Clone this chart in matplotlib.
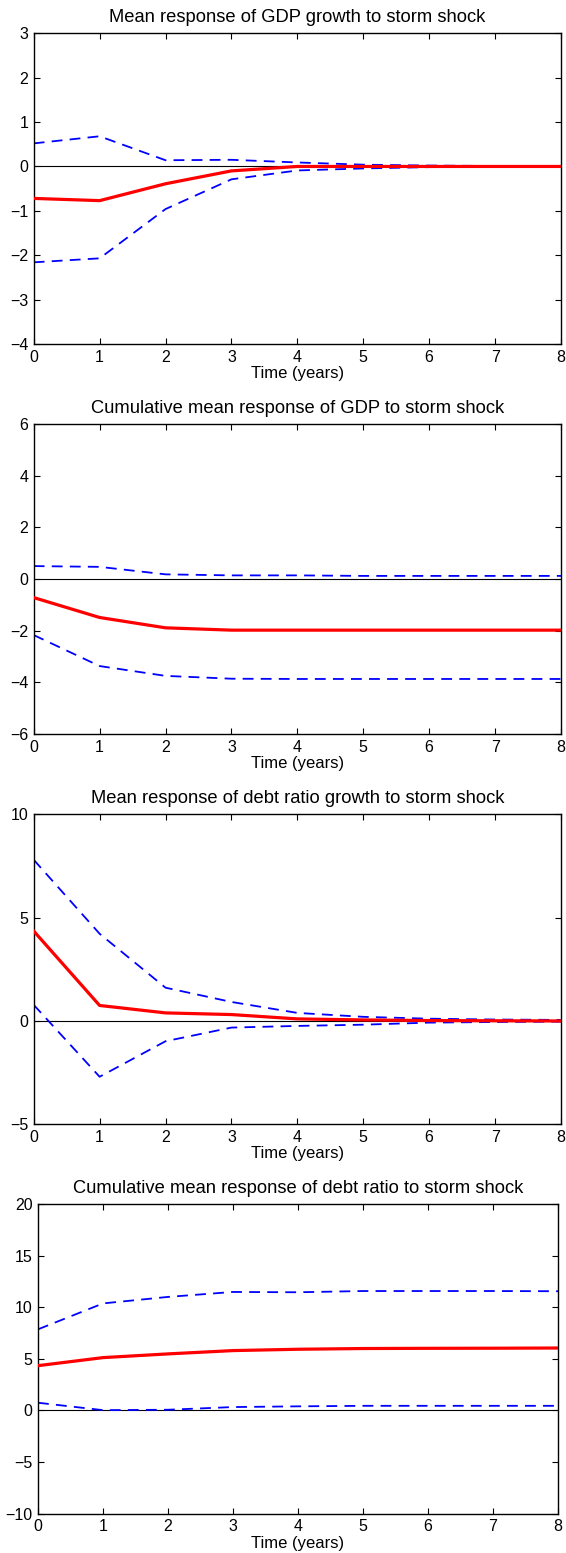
import matplotlib
matplotlib.use("Agg")
import matplotlib.pyplot as plt
import numpy as np

plt.rcParams['font.family'] = ['Liberation Sans', 'DejaVu Sans']

years = [0, 1, 2, 3, 4, 5, 6, 7, 8]

titles = [
    "Mean response of GDP growth to storm shock",
    "Cumulative mean response of GDP to storm shock",
    "Mean response of debt ratio growth to storm shock",
    "Cumulative mean response of debt ratio to storm shock",
]

gdp_growth_mean = [-0.72, -0.77, -0.39, -0.10, 0.0, 0.0, 0.0, 0.0, 0.0]
gdp_growth_upper = [0.52, 0.68, 0.14, 0.15, 0.09, 0.04, 0.02, 0.01, 0.01]
gdp_growth_lower = [-2.16, -2.07, -0.96, -0.29, -0.09, -0.045, -0.015, -0.01, -0.005]

gdp_cum_mean = [-0.72, -1.49, -1.89, -1.98, -1.98, -1.98, -1.98, -1.98, -1.98]
gdp_cum_upper = [0.50, 0.47, 0.18, 0.14, 0.14, 0.12, 0.12, 0.12, 0.12]
gdp_cum_lower = [-2.17, -3.37, -3.75, -3.86, -3.87, -3.87, -3.87, -3.87, -3.87]

debt_growth_mean = [4.35, 0.75, 0.39, 0.31, 0.10, 0.05, 0.02, 0.01, 0.0]
debt_growth_upper = [7.8, 4.22, 1.61, 0.92, 0.39, 0.20, 0.11, 0.07, 0.05]
debt_growth_lower = [0.78, -2.7, -0.98, -0.32, -0.24, -0.18, -0.08, -0.05, -0.03]

debt_cum_mean = [4.34, 5.12, 5.48, 5.80, 5.93, 6.0, 6.02, 6.03, 6.05]
debt_cum_upper = [7.86, 10.37, 11.0, 11.48, 11.45, 11.57, 11.57, 11.57, 11.55]
debt_cum_lower = [0.75, 0.03, 0.07, 0.33, 0.40, 0.45, 0.45, 0.45, 0.45]

ylims = [(-4, 3), (-6, 6), (-5, 10), (-10, 20)]
yticks = [list(range(-4, 4)), list(range(-6, 7, 2)), [-5, 0, 5, 10], list(range(-10, 21, 5))]

series = [
    (gdp_growth_mean, gdp_growth_upper, gdp_growth_lower),
    (gdp_cum_mean, gdp_cum_upper, gdp_cum_lower),
    (debt_growth_mean, debt_growth_upper, debt_growth_lower),
    (debt_cum_mean, debt_cum_upper, debt_cum_lower),
]

W, H = 566, 1553
fig = plt.figure(figsize=(W / 100, H / 100), dpi=100)

# axes boxes in pixels: (left, top, right, bottom)
boxes = [
    (33.7, 33.3, 561, 344),
    (33.7, 424, 561, 734),
    (33.7, 814.3, 561, 1124.3),
    (38, 1204, 558, 1513.7),
]

for i in range(4):
    l, t, r, b = boxes[i]
    ax = fig.add_axes([l / W, 1 - b / H, (r - l) / W, (b - t) / H])
    mean, up, lo = series[i]
    ax.axhline(0, color='black', lw=0.8, zorder=1)
    ax.plot(years, up, color='blue', lw=1.3, dashes=(6, 4), zorder=2)
    ax.plot(years, lo, color='blue', lw=1.3, dashes=(6, 4), zorder=2)
    ax.plot(years, mean, color='red', lw=2.3, zorder=3)
    ax.set_xlim(0, 8)
    ax.set_ylim(*ylims[i])
    ax.set_xticks(years)
    ax.set_yticks(yticks[i])
    ax.tick_params(direction='in', top=True, right=True, length=4, width=0.8,
                   labelsize=11.5, pad=4)
    for s in ax.spines.values():
        s.set_linewidth(1.0)
    ax.set_title(titles[i], fontsize=13.2, pad=8)
    ax.set_xlabel("Time (years)", fontsize=12, labelpad=1)

fig.savefig("out.png", dpi=100)
